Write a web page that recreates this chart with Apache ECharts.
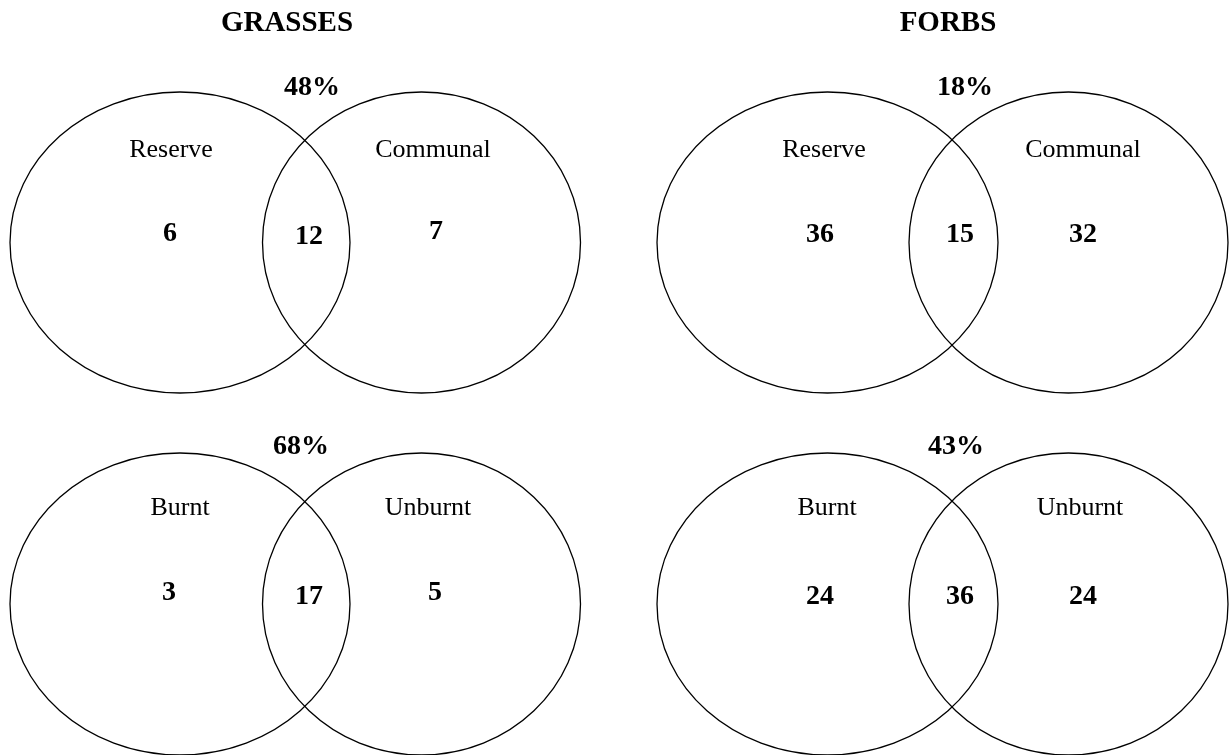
<!DOCTYPE html>
<html><head><meta charset="utf-8">
<script src="https://cdn.jsdelivr.net/npm/echarts@6/dist/echarts.min.js"></script>
<style>html,body{margin:0;padding:0;background:#fff}#c{width:1232px;height:755px}</style>
</head><body><div id="c"></div>
<script>
// ---------- DATA ----------
const panelTitles = ['GRASSES', 'FORBS'];
const rowSetNames = [['Reserve', 'Communal'], ['Burnt', 'Unburnt']];
// counts: [only first set, shared, only second set]
const grassesReserveCommunal = [6, 12, 7];
const forbsReserveCommunal = [36, 15, 32];
const grassesBurntUnburnt = [3, 17, 5];
const forbsBurntUnburnt = [24, 36, 24];
// similarity (%) by row, column
const overlapPercentReserve = [48, 18];
const overlapPercentBurnt = [68, 43];

const counts = [[grassesReserveCommunal, forbsReserveCommunal], [grassesBurntUnburnt, forbsBurntUnburnt]];
const overlapPercent = [overlapPercentReserve, overlapPercentBurnt];

// ---------- LAYOUT (frame units = 1232 x 755) ----------
const W = 1232, H = 755;
const colLayout = [
  {leftCx: 180, rightCx: 421.5, leftRx: 170, rightRx: 159, title: 287, pct: [312, 301],
   labA: [171, 180], labB: [433, 428], numX: [[170, 309, 436], [169, 309, 435]]},
  {leftCx: 827.5, rightCx: 1068.5, leftRx: 170.5, rightRx: 159.5, title: 948, pct: [965, 956],
   labA: [824, 827], labB: [1083, 1080], numX: [[820, 960, 1083], [820, 960, 1083]]}
];
const rowLayout = [
  {cy: 242.5, ry: 150.5, pctY: 88, labY: 150, numY: [[234, 237, 232], [235, 235, 235]]},
  {cy: 604, ry: 151, pctY: 447, labY: 508, numY: [[593, 597, 593], [597, 597, 597]]}
];
const titleY = 24;
const FONT = '"Liberation Serif", "Times New Roman", serif';

// ellipse items: [row, col, set]
const ellipseItems = [];
for (let r = 0; r < 2; r++) for (let c = 0; c < 2; c++) for (let s = 0; s < 2; s++) ellipseItems.push([r, c, s]);

// text items: [x, y, text, kind]
const textItems = [];
for (let c = 0; c < 2; c++) textItems.push([colLayout[c].title, titleY, panelTitles[c], 'title']);
for (let r = 0; r < 2; r++) {
  for (let c = 0; c < 2; c++) {
    const cl = colLayout[c], rl = rowLayout[r];
    textItems.push([cl.pct[r], rl.pctY, overlapPercent[r][c] + '%', 'bold']);
    textItems.push([cl.labA[r], rl.labY, rowSetNames[r][0], 'normal']);
    textItems.push([cl.labB[r], rl.labY, rowSetNames[r][1], 'normal']);
    for (let k = 0; k < 3; k++) {
      textItems.push([cl.numX[r][k], rl.numY[c][k], String(counts[r][c][k]), 'bold']);
    }
  }
}

const chart = echarts.init(document.getElementById('c'), null, {renderer: 'canvas'});
chart.setOption({
  animation: false,
  backgroundColor: '#ffffff',
  grid: {left: 0, right: 0, top: 0, bottom: 0},
  xAxis: {type: 'value', min: 0, max: W, show: false},
  yAxis: {type: 'value', min: 0, max: H, inverse: true, show: false},
  series: [
    {
      type: 'custom', silent: true, clip: false,
      data: ellipseItems,
      renderItem: function (params, api) {
        const r = api.value(0), c = api.value(1), s = api.value(2);
        const cl = colLayout[c], rl = rowLayout[r];
        const cx = s === 0 ? cl.leftCx : cl.rightCx;
        const rx = s === 0 ? cl.leftRx : cl.rightRx;
        const p = api.coord([cx, rl.cy]);
        const sz = api.size([rx, rl.ry]);
        return {
          type: 'ellipse',
          shape: {cx: p[0], cy: p[1], rx: sz[0], ry: sz[1]},
          style: {fill: null, stroke: '#000', lineWidth: 1.3}
        };
      }
    },
    {
      type: 'custom', silent: true, clip: false,
      data: textItems,
      dimensions: ['x', 'y', 'text', 'kind'],
      renderItem: function (params, api) {
        const item = textItems[params.dataIndex];
        const p = api.coord([item[0], item[1]]);
        const kind = item[3];
        return {
          type: 'text',
          x: p[0], y: p[1],
          style: {
            text: item[2],
            fill: '#000',
            fontFamily: FONT,
            fontSize: kind === 'title' ? 29 : (kind === 'bold' ? 28 : 26),
            fontWeight: kind === 'normal' ? 'normal' : 'bold',
            align: 'center',
            verticalAlign: 'middle'
          }
        };
      }
    }
  ]
});
</script>
</body></html>
